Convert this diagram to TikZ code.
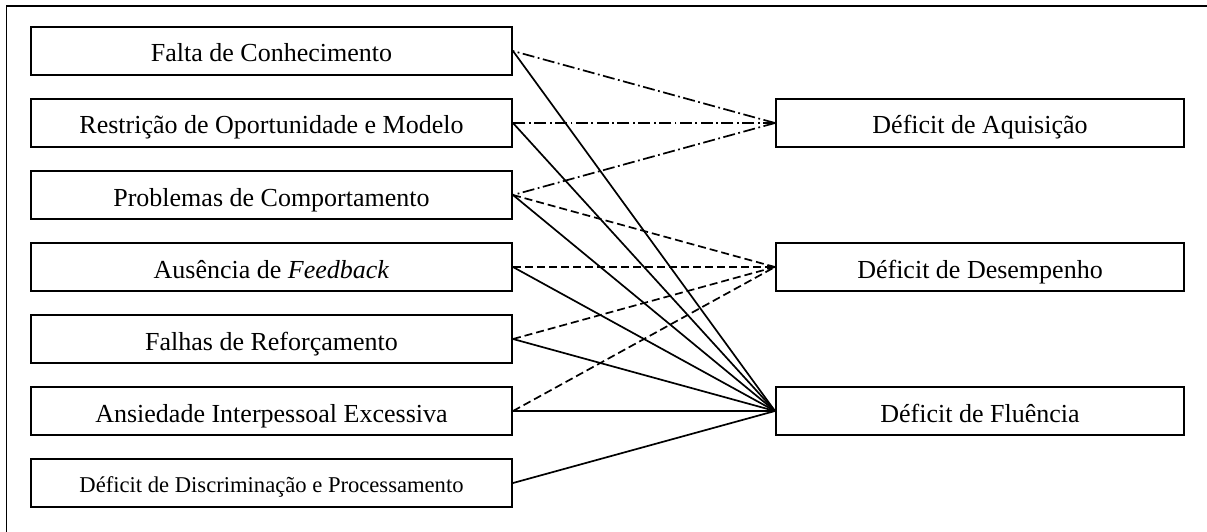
\documentclass[tikz,border=0pt]{standalone}
\usepackage{fontspec}
\setmainfont{Liberation Serif}
\usetikzlibrary{arrows.meta}

\tikzset{
  box/.style={draw, line width=2pt, inner sep=0pt, minimum height=48pt,
    text height=22pt, text depth=0pt, font=\fontsize{26}{30}\selectfont},
  cause/.style={box, minimum width=481pt},
  deficit/.style={box, minimum width=408pt},
  smalltext/.style={text height=19pt, font=\fontsize{22.6}{27}\selectfont},
  link/.style={line width=1.7pt},
  dashdotlink/.style={link, dash pattern=on 12pt off 3.5pt on 1.8pt off 3.5pt},
  dashlink/.style={link, dash pattern=on 8pt off 4pt},
}

\begin{document}
\begin{tikzpicture}[x=1pt, y=-1pt]
  \useasboundingbox (0,0) rectangle (1207,532);

  % outer frame
  \draw[line width=1.7pt] (1207,6) -- (6.5,6) -- (6.5,532);

  % causes
  \node[cause] (c1) at (271.5, 51)  {Falta de Conhecimento};
  \node[cause] (c2) at (271.5, 123) {Restrição de Oportunidade e Modelo};
  \node[cause] (c3) at (271.5, 195) {Problemas de Comportamento};
  \node[cause] (c4) at (271.5, 267) {Ausência de \textit{Feedback}};
  \node[cause] (c5) at (271.5, 339) {Falhas de Reforçamento};
  \node[cause] (c6) at (271.5, 411) {Ansiedade Interpessoal Excessiva};
  \node[cause, smalltext] (c7) at (271.5, 483) {Déficit de Discriminação e Processamento};

  % deficit types
  \node[deficit] (aq) at (980, 123) {Déficit de Aquisição};
  \node[deficit] (de) at (980, 267) {Déficit de Desempenho};
  \node[deficit] (fl) at (980, 411) {Déficit de Fluência};

  % acquisition deficit (dash-dot), drawn from the target so each ends in a dash
  \draw[dashdotlink] (aq.west) -- (c1.east);
  \draw[dashdotlink] (aq.west) -- (c2.east);
  \draw[dashdotlink] (aq.west) -- (c3.east);

  % performance deficit (dashed)
  \draw[dashlink] (c3.east) -- (de.west);
  \draw[dashlink, -{Latex[length=8pt,width=5pt]}] (c4.east) -- (de.west);
  \draw[dashlink] (c5.east) -- (de.west);
  \draw[dashlink] (c6.east) -- (de.west);

  % fluency deficit (solid)
  \foreach \c in {c1,c2,c3,c4,c5,c6,c7}
    \draw[link] (\c.east) -- (fl.west);
\end{tikzpicture}
\end{document}
